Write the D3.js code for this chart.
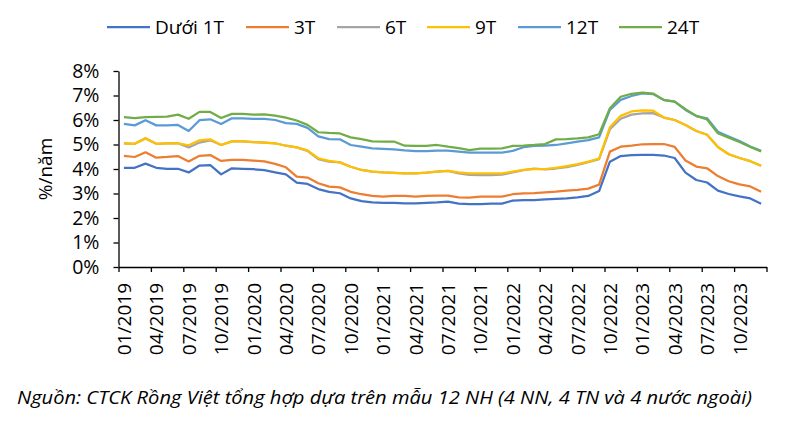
<!DOCTYPE html>
<html>
<head>
<meta charset="utf-8">
<script src="https://cdn.jsdelivr.net/npm/d3@7"></script>
<style>
  html, body { margin: 0; padding: 0; background: #fff; }
  svg { display: block; }
  text { font-family: "Open Sans", "Noto Sans", sans-serif; fill: #000; }
</style>
</head>
<body>
<svg id="chart" width="800" height="439"></svg>
<script>
// ---- data (monthly, 01/2019 .. 12/2023), % per year ----
const months = [];
for (let y = 2019; y <= 2023; y++) for (let m = 1; m <= 12; m++) months.push((m < 10 ? "0" : "") + m + "/" + y);

const seriesNames = ["Dưới 1T", "3T", "6T", "9T", "12T", "24T"];
const seriesColors = ["#4472C4", "#ED7D31", "#A5A5A5", "#FFC000", "#5B9BD5", "#70AD47"];

const under1T = [4.05,4.05,4.22,4.05,4.01,4.01,3.86,4.14,4.16,3.78,4.03,4.01,3.99,3.95,3.86,3.78,3.44,3.39,3.18,3.07,
  3.01,2.80,2.69,2.64,2.62,2.62,2.60,2.60,2.62,2.64,2.67,2.59,2.57,2.57,2.59,2.59,2.71,2.73,2.73,2.76,
  2.78,2.80,2.84,2.90,3.10,4.30,4.53,4.57,4.58,4.58,4.55,4.45,3.85,3.55,3.45,3.12,2.98,2.88,2.80,2.58];
const t3 = [4.54,4.49,4.68,4.46,4.49,4.53,4.31,4.54,4.57,4.33,4.37,4.37,4.34,4.31,4.21,4.07,3.69,3.65,3.42,3.28,
  3.25,3.07,2.97,2.90,2.87,2.90,2.90,2.87,2.90,2.91,2.91,2.84,2.83,2.87,2.87,2.87,2.97,3.01,3.02,3.05,
  3.08,3.12,3.15,3.20,3.36,4.71,4.91,4.95,5.01,5.02,5.02,4.90,4.35,4.10,4.03,3.71,3.50,3.37,3.29,3.07];
const t6 = [5.05,5.03,5.25,5.03,5.05,5.05,4.88,5.08,5.17,4.98,5.13,5.13,5.10,5.08,5.05,4.95,4.88,4.74,4.40,4.30,
  4.27,4.09,3.96,3.89,3.86,3.84,3.82,3.82,3.85,3.89,3.92,3.82,3.76,3.75,3.75,3.77,3.86,3.95,4.02,3.98,
  4.02,4.08,4.17,4.28,4.40,5.62,6.05,6.22,6.27,6.28,6.10,6.00,5.80,5.55,5.40,4.90,4.60,4.45,4.32,4.13];
const t9 = [5.05,5.03,5.25,5.03,5.05,5.05,4.97,5.17,5.21,4.98,5.13,5.13,5.10,5.08,5.05,4.95,4.88,4.76,4.44,4.33,
  4.27,4.09,3.96,3.89,3.86,3.84,3.82,3.82,3.85,3.89,3.92,3.86,3.82,3.82,3.82,3.82,3.89,3.96,3.99,4.00,
  4.05,4.12,4.20,4.30,4.42,5.70,6.17,6.35,6.39,6.38,6.10,6.00,5.80,5.55,5.40,4.90,4.60,4.45,4.32,4.13];
const t12 = [5.84,5.78,5.99,5.78,5.78,5.80,5.55,5.99,6.03,5.84,6.07,6.07,6.05,6.05,6.00,5.87,5.84,5.68,5.33,5.22,
  5.21,4.98,4.91,4.84,4.82,4.80,4.76,4.73,4.73,4.75,4.75,4.71,4.67,4.67,4.67,4.67,4.74,4.89,4.94,4.95,
  4.98,5.05,5.12,5.18,5.29,6.41,6.82,6.98,7.09,7.06,6.82,6.75,6.41,6.16,6.07,5.52,5.33,5.14,4.92,4.74];
const t24 = [6.12,6.08,6.12,6.13,6.14,6.22,6.05,6.33,6.33,6.08,6.25,6.25,6.22,6.23,6.18,6.10,5.98,5.80,5.50,5.47,
  5.45,5.29,5.22,5.13,5.12,5.12,4.95,4.94,4.94,4.98,4.91,4.85,4.77,4.83,4.83,4.84,4.94,4.95,4.98,5.02,
  5.21,5.22,5.25,5.29,5.42,6.48,6.95,7.07,7.12,7.08,6.81,6.75,6.44,6.17,6.02,5.46,5.28,5.10,4.90,4.72];

const yTicks = [0, 1, 2, 3, 4, 5, 6, 7, 8];
const yTitle = "%/năm";
const sourceText = "Nguồn: CTCK Rồng Việt tổng hợp dựa trên mẫu 12 NH (4 NN, 4 TN và 4 nước ngoài)";

const allSeries = [under1T, t3, t6, t9, t12, t24];

// ---- layout ----
const svg = d3.select("#chart");
const plot = { left: 118.5, right: 766.5, top: 71, bottom: 267 };

const xIdx = d3.scaleLinear().domain([0, months.length]).range([plot.left, plot.right]);
const y = d3.scaleLinear().domain([0, 8]).range([plot.bottom, plot.top]);

// y axis
const yAxis = svg.append("g")
  .attr("transform", `translate(${plot.left},0)`)
  .call(d3.axisLeft(y).tickValues(yTicks).tickFormat(d => d + "%").tickSize(5).tickPadding(14).tickSizeOuter(0));
yAxis.select(".domain").attr("stroke", "#000").attr("stroke-width", 1.3);
yAxis.selectAll(".tick line").attr("stroke", "#000").attr("stroke-width", 1.3);
yAxis.selectAll(".tick text").attr("font-size", 19.5).attr("font-family", "Open Sans, sans-serif");

// x axis: tick marks at band boundaries every 3 months
const boundaryTicks = d3.range(0, months.length + 1, 3);
const xAxis = svg.append("g")
  .attr("transform", `translate(0,${plot.bottom})`)
  .call(d3.axisBottom(xIdx).tickValues(boundaryTicks).tickFormat("").tickSize(5).tickSizeOuter(0));
xAxis.select(".domain").attr("stroke", "#000").attr("stroke-width", 1.3);
xAxis.selectAll(".tick line").attr("stroke", "#000").attr("stroke-width", 1.3);

// x labels at band centres
const labelIdx = d3.range(0, months.length, 3);
const xLab = svg.append("g")
  .attr("transform", `translate(0,${plot.bottom})`)
  .call(d3.axisBottom(xIdx).tickValues(labelIdx.map(i => i + 0.5)).tickFormat(d => months[Math.round(d - 0.5)]).tickSize(0));
xLab.select(".domain").remove();
xLab.selectAll(".tick text")
  .attr("font-size", 19)
  .attr("transform", "rotate(-90)")
  .attr("text-anchor", "end")
  .attr("dy", "0.35em")
  .attr("x", -16)
  .attr("y", 0);

// lines
const line = d3.line()
  .x((d, i) => xIdx(i + 0.5))
  .y(d => y(d));
svg.append("g").selectAll("path")
  .data(allSeries)
  .join("path")
  .attr("d", d => line(d))
  .attr("fill", "none")
  .attr("stroke", (d, i) => seriesColors[i])
  .attr("stroke-width", 2.25)
  .attr("stroke-linejoin", "round");

// y title
svg.append("text")
  .attr("transform", `translate(52,${(plot.top + plot.bottom) / 2}) rotate(-90)`)
  .attr("text-anchor", "middle")
  .attr("font-size", 19)
  .text(yTitle);

// legend
const legendX = [107, 246, 337, 427, 518, 619];
const lg = svg.append("g").selectAll("g")
  .data(seriesNames)
  .join("g")
  .attr("transform", (d, i) => `translate(${legendX[i]},27)`);
lg.append("line").attr("x1", 0).attr("x2", 43).attr("y1", 0).attr("y2", 0)
  .attr("stroke", (d, i) => seriesColors[i]).attr("stroke-width", 2.25);
lg.append("text").attr("x", 48).attr("dy", "0.35em").attr("font-size", 19).text(d => d);

// source
svg.append("text")
  .attr("x", 17).attr("y", 404)
  .attr("font-size", 19)
  .attr("font-style", "italic")
  .attr("textLength", 735)
  .attr("lengthAdjust", "spacingAndGlyphs")
  .text(sourceText);
</script>
</body>
</html>
